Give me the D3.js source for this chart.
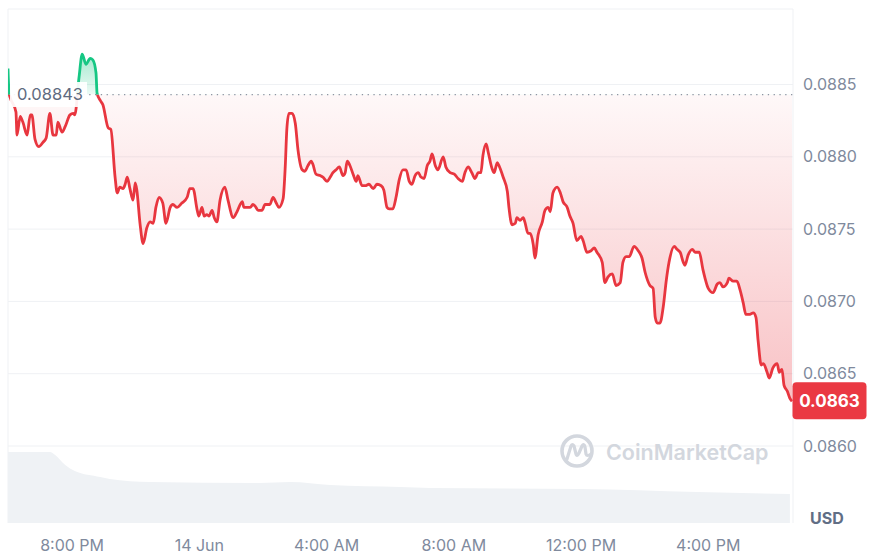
<!DOCTYPE html>
<html><head><meta charset="utf-8">
<script src="https://cdn.jsdelivr.net/npm/d3@7"></script>
<style>body{margin:0;background:#fff;} svg{display:block;font-family:Inter,"Noto Sans",sans-serif;}</style>
</head><body><svg id="c" width="871" height="555"></svg>
<script>
// ---- data ----
const startTime = new Date(2024, 5, 13, 18, 0); // 13 Jun 6:00 PM
const minutes = [0,2,4,15,17,23,28,36,42,45,51,58,66,72,79,85,91,94,102,108,117,123,126,134,140,147,155,160,166,168,174,179,189,194,202,206,211,217,221,225,230,236,240,243,249,255,262,268,274,279,285,292,298,306,311,319,328,338,
343,349,357,360,366,370,375,379,385,389,394,400,409,415,425,432,442,445,451,457,462,466,472,479,485,494,500,506,511,519,523,526,530,536,542,547,555,560,566,572,575,581,589,594,602,608,613,619,625,632,636,640,645,651,657,660,668,674,681,689,696,704,709,715,719,
726,732,738,745,751,757,762,768,774,779,785,791,796,800,806,811,821,826,834,842,849,857,862,868,875,881,887,892,896,902,906,913,917,923,926,934,942,945,951,957,960,966,972,975,981,985,991,994,1000,1008,1013,1019,1023,1028,1036,1042,1047,1055,
1060,1066,1073,1081,1085,1092,1100,1106,1111,1121,1126,1132,1140,1147,1155,1160,1166,1172,1181,1189,1196,1202,1211,1217,1221,1225,1230,1236,1242,1247,1257,1262,1268,1274,1277,1283,1291,1296,1304,1311,1315,1321,1330,1338,1343,1349,1357,1360,1368,1375,1381,1387,1392,1398,1406,1411,1415,1421,1425,1432,1436,1443,1451,1455,1460,1464,1470,1475,1479];
const prices = [0.08861,0.08844,0.08841,0.08831,0.08815,0.08828,0.08824,0.08815,0.08829,0.08829,0.08812,0.08807,0.08810,0.08813,0.08830,0.08815,0.08815,0.08824,0.08817,0.08821,0.08829,0.08830,0.08829,0.08855,0.08871,0.08864,0.08868,0.08867,0.08858,0.08844,0.08839,0.08836,0.08820,0.08819,0.08786,0.08775,0.08779,0.08778,0.08781,0.08786,0.08778,0.08770,0.08782,0.08777,0.08754,0.08740,0.08751,0.08755,0.08754,0.08765,0.08772,0.08768,0.08754,0.08765,0.08767,0.08765,0.08768,0.08772,
0.08778,0.08778,0.08763,0.08759,0.08765,0.08759,0.08760,0.08759,0.08763,0.08758,0.08755,0.08770,0.08779,0.08770,0.08758,0.08762,0.08769,0.08765,0.08765,0.08765,0.08767,0.08766,0.08763,0.08763,0.08767,0.08767,0.08772,0.08768,0.08765,0.08771,0.08793,0.08819,0.08830,0.08830,0.08823,0.08805,0.08791,0.08790,0.08794,0.08797,0.08795,0.08788,0.08787,0.08786,0.08783,0.08786,0.08789,0.08791,0.08793,0.08787,0.08789,0.08797,0.08794,0.08788,0.08783,0.08787,0.08780,0.08780,0.08781,0.08778,0.08781,0.08780,0.08777,0.08765,0.08764,
0.08764,0.08772,0.08784,0.08791,0.08791,0.08783,0.08781,0.08787,0.08789,0.08786,0.08785,0.08794,0.08797,0.08802,0.08794,0.08791,0.08800,0.08793,0.08789,0.08788,0.08785,0.08783,0.08789,0.08793,0.08789,0.08785,0.08789,0.08789,0.08801,0.08809,0.08803,0.08792,0.08789,0.08796,0.08794,0.08786,0.08776,0.08765,0.08753,0.08754,0.08758,0.08756,0.08758,0.08755,0.08747,0.08747,0.08739,0.08730,0.08746,0.08755,0.08763,0.08765,0.08762,0.08775,0.08779,0.08775,0.08769,0.08765,
0.08759,0.08754,0.08742,0.08745,0.08742,0.08734,0.08735,0.08737,0.08734,0.08727,0.08713,0.08717,0.08719,0.08711,0.08713,0.08727,0.08731,0.08731,0.08738,0.08735,0.08730,0.08720,0.08711,0.08709,0.08689,0.08685,0.08685,0.08696,0.08715,0.08727,0.08738,0.08736,0.08734,0.08727,0.08725,0.08732,0.08736,0.08734,0.08734,0.08722,0.08716,0.08709,0.08706,0.08712,0.08713,0.08710,0.08713,0.08716,0.08714,0.08714,0.08708,0.08699,0.08691,0.08691,0.08692,0.08689,0.08673,0.08656,0.08657,0.08651,0.08647,0.08654,0.08657,0.08651,0.08653,0.08642,0.08638,0.08633,0.08631];
const volMinutes = [0,79,89,108,126,174,192,268,475,532,608,740,796,1079,1300,1475];
const volumes    = [71,71,68,58,52,46,44,41,40,41,38,36,35,34,31,29];
const baselinePrice = 0.08843;
const baselineLabel = "0.08843";
const lastPriceLabel = "0.0863";
const yTicks = [0.0860,0.0865,0.0870,0.0875,0.0880,0.0885];
const xTickHours = [2,6,10,14,18,22];
const xTickLabels = ["8:00 PM","14 Jun","4:00 AM","8:00 AM","12:00 PM","4:00 PM"];
const unitLabel = "USD";
const watermark = "CoinMarketCap";

// ---- layout ----
const L = 8, R = 793, T = 9, B = 523;
const RED = "#e8363f", GREEN = "#16c784";
const svg = d3.select("#c");
const tAt = m => new Date(startTime.getTime() + m * 60000);
const data = minutes.map((m, i) => ({ t: tAt(m), v: prices[i] }));
const vol = volMinutes.map((m, i) => ({ t: tAt(m), v: volumes[i] }));

const x = d3.scaleTime().domain([tAt(0), tAt(1479)]).range([L, 792]);
const y = d3.scaleLinear().domain([0.0860, 0.0885]).range([446, 84.5]);
const yv = d3.scaleLinear().domain([0, 71]).range([B, 452]);
const by = y(baselinePrice);

const defs = svg.append("defs");
defs.append("clipPath").attr("id", "above").append("rect").attr("x", L).attr("y", 0).attr("width", R - L).attr("height", by);
defs.append("clipPath").attr("id", "below").append("rect").attr("x", L).attr("y", by).attr("width", R - L).attr("height", 555 - by);
const gr = defs.append("linearGradient").attr("id", "gRed").attr("gradientUnits", "userSpaceOnUse")
  .attr("x1", 0).attr("x2", 0).attr("y1", by).attr("y2", y(d3.min(prices)));
gr.append("stop").attr("offset", 0).attr("stop-color", "#ea3943").attr("stop-opacity", 0.035);
gr.append("stop").attr("offset", 1).attr("stop-color", "#ea3943").attr("stop-opacity", 0.31);
const gg = defs.append("linearGradient").attr("id", "gGreen").attr("gradientUnits", "userSpaceOnUse")
  .attr("x1", 0).attr("x2", 0).attr("y1", by).attr("y2", y(d3.max(prices)));
gg.append("stop").attr("offset", 0).attr("stop-color", GREEN).attr("stop-opacity", 0.08);
gg.append("stop").attr("offset", 1).attr("stop-color", GREEN).attr("stop-opacity", 0.4);

// grid & frame
const grid = svg.append("g").attr("stroke", "#eff1f4").attr("stroke-width", 1);
yTicks.forEach(v => grid.append("line").attr("x1", L).attr("x2", R).attr("y1", y(v)).attr("y2", y(v)));
grid.append("line").attr("x1", L).attr("x2", R).attr("y1", T).attr("y2", T);
grid.append("line").attr("x1", L).attr("x2", L).attr("y1", T).attr("y2", B);
grid.append("line").attr("x1", R).attr("x2", R).attr("y1", T).attr("y2", B);

// volume
svg.append("path").datum(vol)
  .attr("d", d3.area().x(d => x(d.t)).y0(B).y1(d => yv(d.v)).curve(d3.curveMonotoneX))
  .attr("fill", "#eff2f5");

// fills
const area = d3.area().x(d => x(d.t)).y0(by).y1(d => y(d.v)).curve(d3.curveMonotoneX);
svg.append("path").datum(data).attr("d", area).attr("fill", "url(#gRed)").attr("clip-path", "url(#below)");
svg.append("path").datum(data).attr("d", area).attr("fill", "url(#gGreen)").attr("clip-path", "url(#above)");

// baseline
svg.append("line").attr("x1", L).attr("x2", R).attr("y1", by).attr("y2", by)
  .attr("stroke", "#8e95a3").attr("stroke-width", 1.3).attr("stroke-dasharray", "1.3,4.5");

// lines
const line = d3.line().x(d => x(d.t)).y(d => y(d.v)).curve(d3.curveMonotoneX);
svg.append("path").datum(data).attr("d", line).attr("fill", "none").attr("stroke", RED)
  .attr("stroke-width", 2.8).attr("stroke-linejoin", "round").attr("clip-path", "url(#below)");
svg.append("path").datum(data).attr("d", line).attr("fill", "none").attr("stroke", GREEN)
  .attr("stroke-width", 2.8).attr("stroke-linejoin", "round").attr("clip-path", "url(#above)");

// baseline label
svg.append("rect").attr("x", 10).attr("y", 82).attr("width", 77).attr("height", 25).attr("fill", "#fff").attr("opacity", 0.92);
svg.append("text").attr("x", 17).attr("y", by).attr("dy", "0.35em").attr("font-size", 16.5)
  .attr("fill", "#5f6b80").text(baselineLabel);

// watermark
const wm = svg.append("g").attr("fill", "none").attr("stroke", "#d3d7de");
wm.append("circle").attr("cx", 577).attr("cy", 451).attr("r", 15).attr("stroke-width", 3.6);
wm.append("path").attr("stroke-width", 3.2).attr("stroke-linecap", "round").attr("stroke-linejoin", "round")
  .attr("d", "M567,459 L571,446 Q572,443 574,446 L576,454 Q577,457 579,453 L582,446 Q584,443 585,447 L586,454 Q587,457 591,454");
svg.append("text").attr("x", 606).attr("y", 460).attr("font-size", 21.5).attr("font-weight", 600)
  .attr("fill", "#d3d7de").text(watermark);

// y axis
const yAxis = svg.append("g").attr("transform", `translate(${R},0)`)
  .call(d3.axisRight(y).tickValues(yTicks).tickSize(0).tickPadding(10).tickFormat(d3.format(".4f")));
yAxis.select(".domain").remove();
yAxis.selectAll("text").attr("font-size", 16).attr("fill", "#808a9d").attr("font-family", "Inter");

// x axis
const xAxis = svg.append("g").attr("transform", `translate(0,${B})`)
  .call(d3.axisBottom(x).tickValues(xTickHours.map(h => tAt(h * 60))).tickSize(0).tickPadding(17)
    .tickFormat((d, i) => xTickLabels[i]));
xAxis.select(".domain").remove();
xAxis.selectAll("text").attr("font-size", 16).attr("fill", "#808a9d").attr("font-family", "Inter");

// unit label
svg.append("text").attr("x", 810).attr("y", 518).attr("dy", "0.35em").attr("font-size", 16)
  .attr("font-weight", 700).attr("fill", "#616e85").text(unitLabel);

// last price box
const lastY = y(prices[prices.length - 1]);
svg.append("rect").attr("x", 792.5).attr("y", lastY - 19).attr("width", 74).attr("height", 37).attr("rx", 4).attr("fill", "#ea3943");
svg.append("text").attr("x", 829.5).attr("y", lastY).attr("dy", "0.35em").attr("text-anchor", "middle")
  .attr("font-size", 17).attr("font-weight", 700).attr("fill", "#fff").text(lastPriceLabel);
</script></body></html>
